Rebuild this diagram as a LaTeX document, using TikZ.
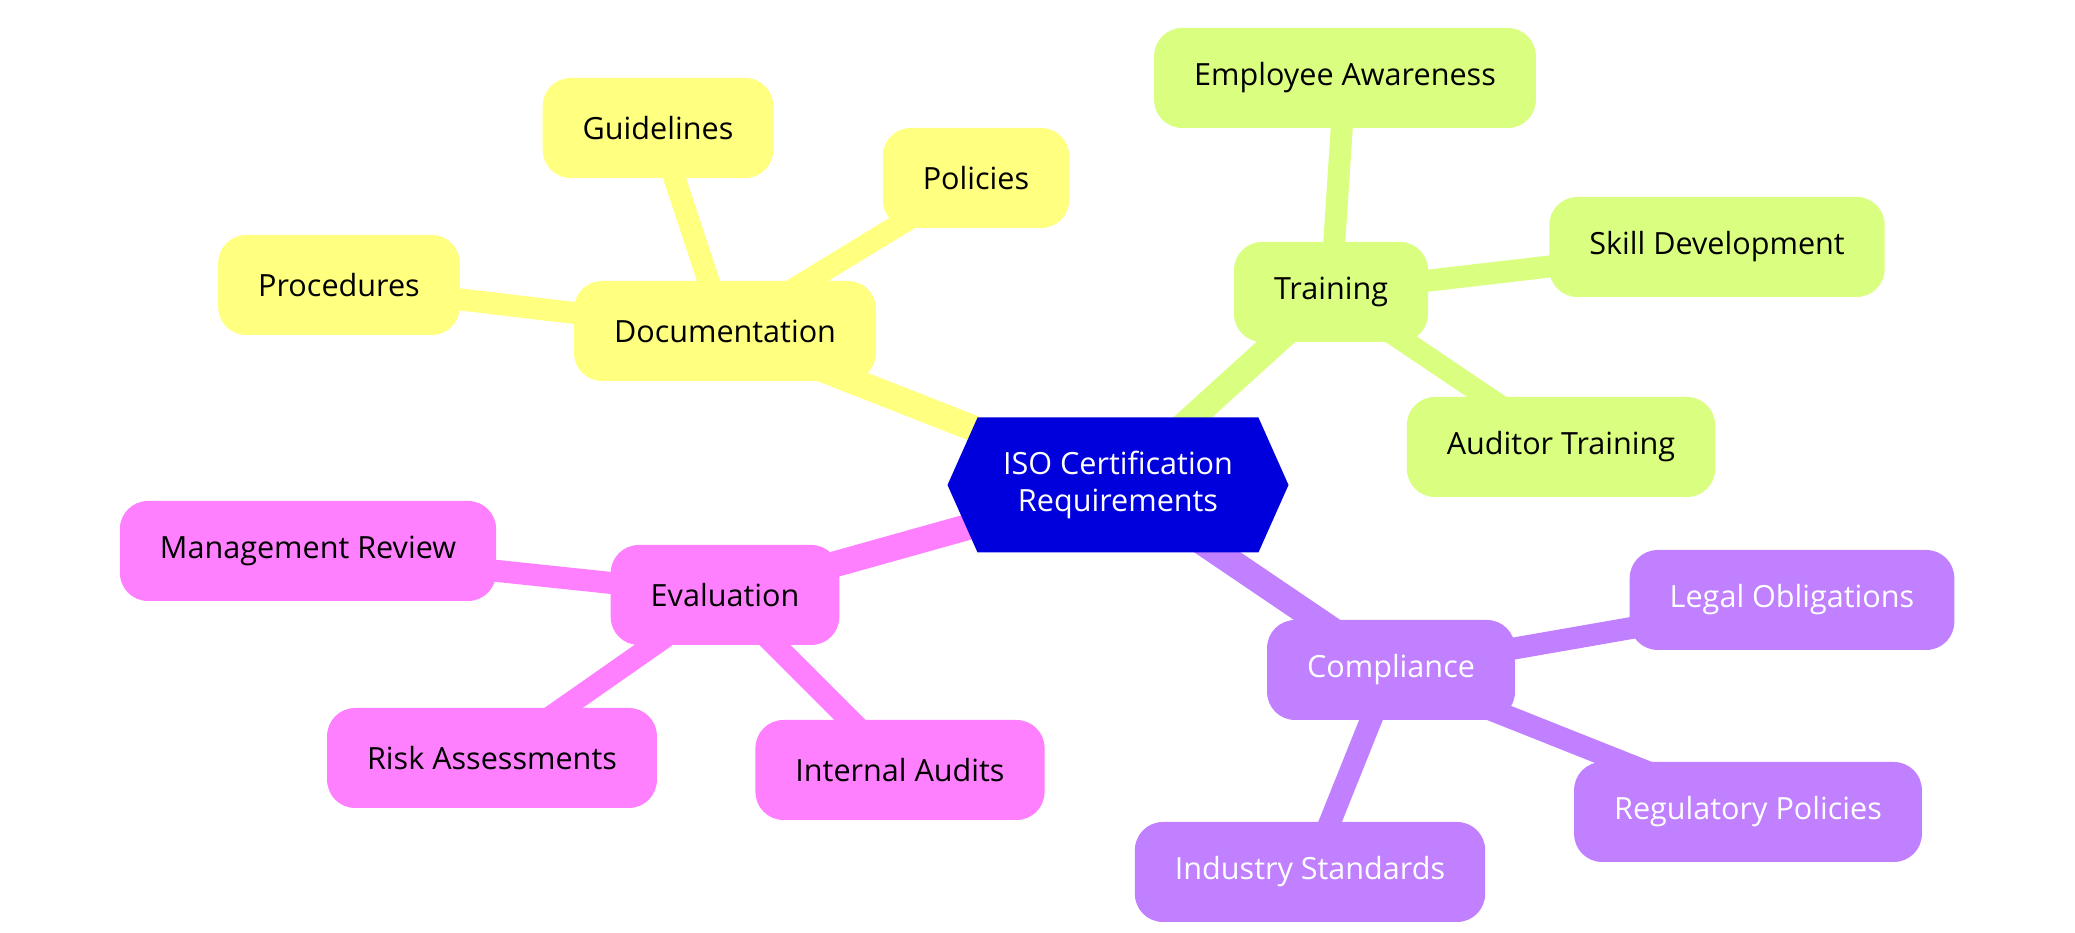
\documentclass[tikz,border=0pt]{standalone}
\usepackage{fontspec}
\setmainfont{Open Sans}
\usetikzlibrary{backgrounds,shapes.symbols}
\definecolor{docyellow}{RGB}{255,255,128}
\definecolor{traingreen}{RGB}{218,255,128}
\definecolor{evalpink}{RGB}{255,128,255}
\definecolor{comppurple}{RGB}{192,128,255}
\definecolor{rootblue}{RGB}{0,0,220}
\tikzset{
	leaf/.style={rounded corners=0.28cm, inner xsep=0.4cm, minimum height=1cm, font=\fontsize{8.7}{10.5}\selectfont},
	branch/.style={line width=0.26cm},
	twig/.style={line width=0.22cm}
}

\begin{document}
\begin{tikzpicture}
		%%%%% START %%%%%
		\useasboundingbox (0, 0) rectangle (20.75, 9.33);
		
		\node[shape=signal, signal to=east and west, signal pointer angle=132, fill=rootblue, text=white, align=center, inner xsep=0.1cm, minimum height=1.35cm, minimum width=3.41cm, font=\fontsize{8.7}{10.5}\selectfont] (root) at (11.18, 4.48) {ISO Certification\\Requirements};
		
		\node[leaf, fill=docyellow] (doc) at (7.25, 6.02) {Documentation};
		\node[leaf, fill=docyellow] (proc) at (3.39, 6.48) {Procedures};
		\node[leaf, fill=docyellow] (guide) at (6.58, 8.05) {Guidelines};
		\node[leaf, fill=docyellow] (pol) at (9.76, 7.55) {Policies};
		
		\node[leaf, fill=traingreen] (train) at (13.31, 6.41) {Training};
		\node[leaf, fill=traingreen] (emp) at (13.45, 8.55) {Employee Awareness};
		\node[leaf, fill=traingreen] (skill) at (17.17, 6.86) {Skill Development};
		\node[leaf, fill=traingreen] (audtrain) at (15.61, 4.86) {Auditor Training};
		
		\node[leaf, fill=evalpink] (eval) at (7.25, 3.38) {Evaluation};
		\node[leaf, fill=evalpink] (mgmt) at (3.08, 3.82) {Management Review};
		\node[leaf, fill=evalpink] (risk) at (4.92, 1.75) {Risk Assessments};
		\node[leaf, fill=evalpink] (intaud) at (9.00, 1.63) {Internal Audits};
		
		\node[leaf, fill=comppurple, text=white] (comp) at (13.91, 2.63) {Compliance};
		\node[leaf, fill=comppurple, text=white] (legal) at (17.92, 3.33) {Legal Obligations};
		\node[leaf, fill=comppurple, text=white] (reg) at (17.48, 1.21) {Regulatory Policies};
		\node[leaf, fill=comppurple, text=white] (ind) at (13.10, 0.61) {Industry Standards};
		
		\begin{scope}[on background layer]
			\draw[branch, docyellow] (root.center) -- (doc.center);
			\draw[twig, docyellow] (doc.center) -- (proc.center);
			\draw[twig, docyellow] (doc.center) -- (guide.center);
			\draw[twig, docyellow] (doc.center) -- (pol.center);
			
			\draw[branch, traingreen] (root.center) -- (train.center);
			\draw[twig, traingreen] (train.center) -- (emp.center);
			\draw[twig, traingreen] (train.center) -- (skill.center);
			\draw[twig, traingreen] (train.center) -- (audtrain.center);
			
			\draw[branch, evalpink] (root.center) -- (eval.center);
			\draw[twig, evalpink] (eval.center) -- (mgmt.center);
			\draw[twig, evalpink] (eval.center) -- (risk.center);
			\draw[twig, evalpink] (eval.center) -- (intaud.center);
			
			\draw[branch, comppurple] (root.center) -- (comp.center);
			\draw[twig, comppurple] (comp.center) -- (legal.center);
			\draw[twig, comppurple] (comp.center) -- (reg.center);
			\draw[twig, comppurple] (comp.center) -- (ind.center);
		\end{scope}
		%%%%% END %%%%%
	\end{tikzpicture}
\end{document}
